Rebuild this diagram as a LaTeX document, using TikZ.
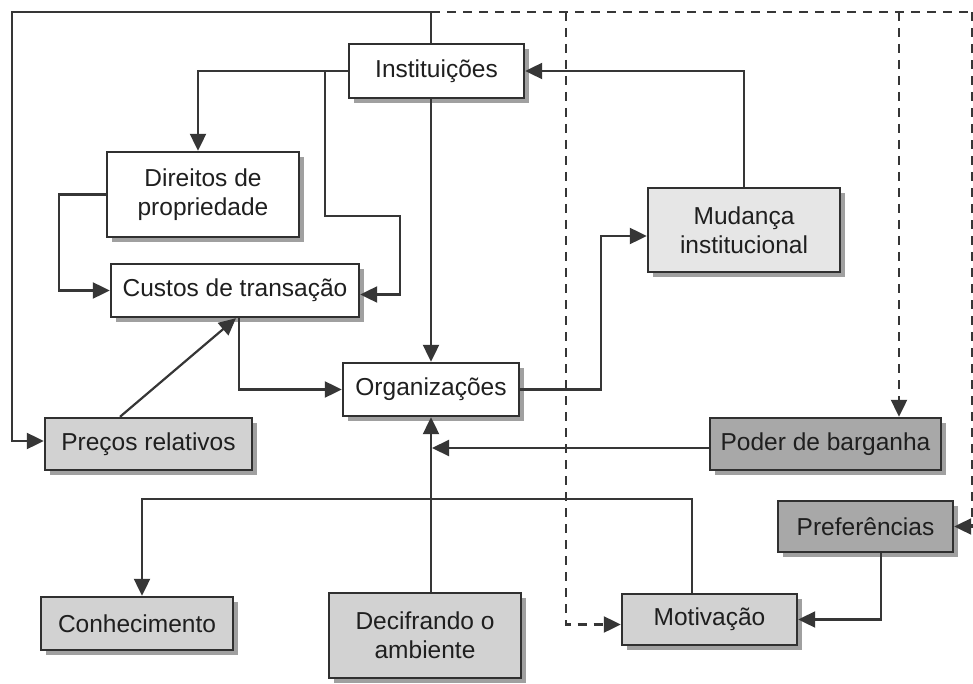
\documentclass[tikz,border=0pt]{standalone}
\usepackage{fontspec}
\setmainfont{Liberation Sans}
\usetikzlibrary{arrows.meta,shadows,calc}
\definecolor{ln}{HTML}{363636}
\definecolor{bd}{HTML}{303030}
\definecolor{fmud}{HTML}{E6E6E6}
\definecolor{fmid}{HTML}{D2D2D2}
\definecolor{fdark}{HTML}{A8A8A8}
\definecolor{shd}{HTML}{A0A0A0}
\begin{document}
\begin{tikzpicture}[x=1pt,y=-1pt,
  box/.style={draw=bd, line width=2.4pt, fill=white, align=center, inner sep=0pt,
    font=\fontsize{24.5}{29}\selectfont, text=black!88,
    drop shadow={shadow xshift=5pt, shadow yshift=-5pt, fill=shd, opacity=1}},
  arr/.style={draw=ln, line width=2.2pt, -{Triangle[length=17pt,width=16pt]}},
  dsh/.style={draw=ln, line width=2.2pt, dash pattern=on 9pt off 7pt},
  darr/.style={dsh, -{Triangle[length=17pt,width=16pt]}},
]
\useasboundingbox (0,0) rectangle (973,684);
\fill[white] (0,0) rectangle (973,684);

% nodes
\node[box, minimum width=175pt, minimum height=54pt] (inst) at (436.5,71) {Instituições};
\node[box, minimum width=192pt, minimum height=85pt] (dir) at (203,194.5) {Direitos de\\propriedade};
\node[box, minimum width=248pt, minimum height=53pt] (cust) at (235,290.5) {Custos de transação};
\node[box, fill=fmud, minimum width=192pt, minimum height=84pt] (mud) at (744,230) {Mudança\\institucional};
\node[box, minimum width=176pt, minimum height=53pt] (org) at (431,389.5) {Organizações};
\node[box, fill=fmid, minimum width=207pt, minimum height=52pt] (prec) at (148.5,444) {Preços relativos};
\node[box, fill=fdark, minimum width=231pt, minimum height=52pt] (pod) at (825.5,444) {Poder de barganha};
\node[box, fill=fdark, minimum width=175pt, minimum height=51pt] (pref) at (865.5,526.5) {Preferências};
\node[box, fill=fmid, minimum width=192pt, minimum height=53pt] (conh) at (137,623.5) {Conhecimento};
\node[box, fill=fmid, minimum width=192pt, minimum height=85pt] (dec) at (425,635.5) {Decifrando o\\ambiente};
\node[box, fill=fmid, minimum width=175pt, minimum height=51pt] (mot) at (709.5,619.5) {Motivação};

% free ends
\coordinate (tl) at (431,12);
\coordinate (tr) at (973,12);
\coordinate (d1) at (566,12);
\coordinate (d2) at (899,12);
\coordinate (d3) at (972.5,12);

% solid connectors
\draw[arr] (inst.west) -| ($(dir.north)+(-5,0)$);
\draw[arr] (inst.west) -| (325,216) -- (400,216) |- ($(cust.east)+(0,4)$);
\draw[arr] (dir.west) -- ++(-47,0) |- (cust.west);
\draw[arr] (inst.south -| org.north) -- (org.north);
\draw[arr] (inst.north -| org.north) -- (tl) -- (12,12) |- ($(prec.west)+(0,-3)$);
\draw[arr] ($(prec.north)+(-28.5,0)$) -- ($(cust.south)+(1,0)$);
\draw[arr] ($(cust.south)+(4,0)$) |- (org.west);
\draw[arr] (org.east) -| (601,236) -- ($(mud.west)+(0,6)$);
\draw[arr] (mud.north) |- (inst.east);
\draw[arr] ($(pod.west)+(0,4)$) -- ($(pod.west -| org.south)+(1,4)$);
\draw[arr] (dec.north -| org.south) -- (org.south);
\draw[arr] ($(mot.north)+(-17.5,0)$) |- ($(conh.north)+(5,-97)$) -- ($(conh.north)+(5,0)$);
\draw[arr] ($(pref.south)+(15.5,0)$) |- (mot.east);

% dashed connectors
\draw[dsh] (tl) -- (tr);
\draw[darr] (d1) |- ($(mot.west)+(0,5)$);
\draw[darr] (d2) -- (d2 |- pod.north);
\draw[darr] (d3) |- (pref.east);
\end{tikzpicture}
\end{document}
